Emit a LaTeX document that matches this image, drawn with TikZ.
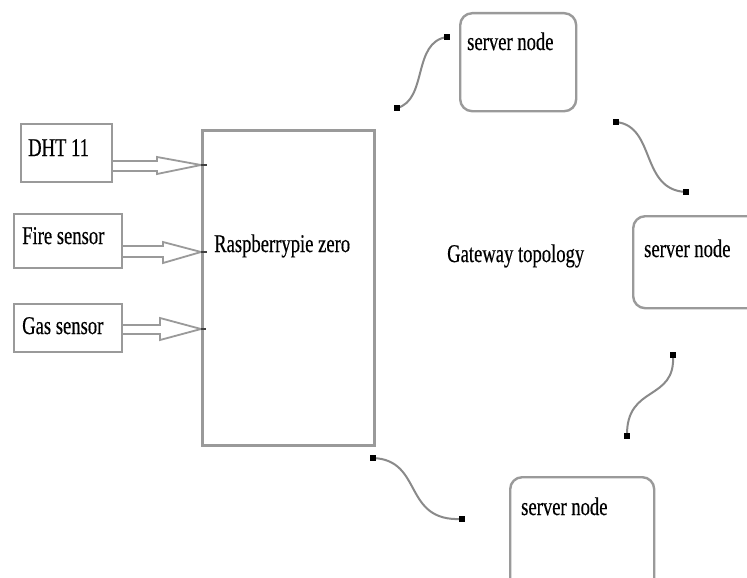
\documentclass[tikz,border=0pt]{standalone}
\usepackage{fontspec}
\setmainfont[FakeStretch=0.73,FakeBold=0.4]{Liberation Serif}
\definecolor{linegray}{HTML}{9A9A9A}
\definecolor{wavegray}{HTML}{8A8A8A}
\tikzset{
  x=1pt, y=-1pt,
  sensorbox/.style={draw=linegray, line width=2.2pt, rectangle, inner sep=0pt},
  serverbox/.style={draw=linegray, line width=2.4pt, rectangle, rounded corners=12pt, inner sep=0pt},
  lbl/.style={anchor=base west, inner sep=0pt, font=\fontsize{25.5}{27}\selectfont, text=black},
  hollowarrow/.style={draw=linegray, line width=1.8pt, line join=miter},
  wave/.style={draw=wavegray, line width=2pt},
  enddot/.style={fill=black, minimum size=5.5pt, inner sep=0pt, rectangle},
}
\begin{document}
\begin{tikzpicture}
\clip (0,0) rectangle (747,578);
\fill[white] (0,0) rectangle (747,578);

% sensor boxes
\node[sensorbox, minimum width=91pt, minimum height=58pt, anchor=north west] (dht) at (20,123) {};
\node[sensorbox, minimum width=108pt, minimum height=54pt, anchor=north west] (fire) at (13,213) {};
\node[sensorbox, minimum width=108pt, minimum height=48pt, anchor=north west] (gas) at (13,303) {};
\node[sensorbox, line width=2.6pt, minimum width=172pt, minimum height=315pt, anchor=north west] (rpi) at (201,129) {};

\node[lbl] (dhtl) at (28,156) {DHT 11};
\node[lbl] (firel) at (22,244) {Fire sensor};
\node[lbl] (gasl) at (22,334) {Gas sensor};
\node[lbl] (rpil) at (214,252) {Raspberrypie zero};
\node[lbl] (gwl) at (447,262) {Gateway topology};

% server boxes
\node[serverbox, minimum width=116pt, minimum height=98pt, anchor=north west] (srvtop) at (459,12) {};
\node[serverbox, minimum width=130pt, minimum height=92pt, anchor=north west] (srvright) at (632,215) {};
\node[serverbox, minimum width=144pt, minimum height=115pt, anchor=north west] (srvbot) at (509,476) {};
\node[lbl] (srvtopl) at (467,50) {server node};
\node[lbl] (srvrightl) at (644,257) {server node};
\node[lbl] (srvbotl) at (521,515) {server node};

% hollow arrows sensors -> raspberry
\draw[hollowarrow] (dht.east |- 0,161) -- (157,161) -- (157,157) -- (rpi.west |- 0,165) -- (157,174) -- (157,171) -- (dht.east |- 0,171);
\draw[hollowarrow] (fire.east |- 0,246) -- (163,246) -- (163,242) -- (rpi.west |- 0,252) -- (163,263) -- (163,257) -- (fire.east |- 0,257);
\draw[hollowarrow] (gas.east |- 0,325) -- (160,325) -- (160,318) -- (rpi.west |- 0,329) -- (160,340) -- (160,334) -- (gas.east |- 0,334);
\draw[black!75, line width=1.8pt] (rpi.west |- 0,165) -- ++(6,0);
\draw[black!75, line width=1.8pt] (rpi.west |- 0,252) -- ++(6,0);
\draw[black!75, line width=1.8pt] (rpi.west |- 0,329) -- ++(5,0);

% wavy links
\coordinate (w1a) at (397,108); \coordinate (w1b) at (447,37);
\coordinate (w2a) at (616,122); \coordinate (w2b) at (686,192);
\coordinate (w3a) at (673,355); \coordinate (w3b) at (627,436);
\coordinate (w4a) at (373,458); \coordinate (w4b) at (462,519);
\draw[wave] (w1a) .. controls (428,100) and (412,42) .. (w1b);
\draw[wave] (w2a) .. controls (656,126) and (640,190) .. (w2b);
\draw[wave] (w3a) .. controls (676,402) and (626,384) .. (w3b);
\draw[wave] (w4a) .. controls (424,460) and (402,522) .. (w4b);
\foreach \p in {w1a,w1b,w2a,w2b,w3a,w3b,w4a,w4b} \node[enddot] at (\p) {};
\end{tikzpicture}
\end{document}
